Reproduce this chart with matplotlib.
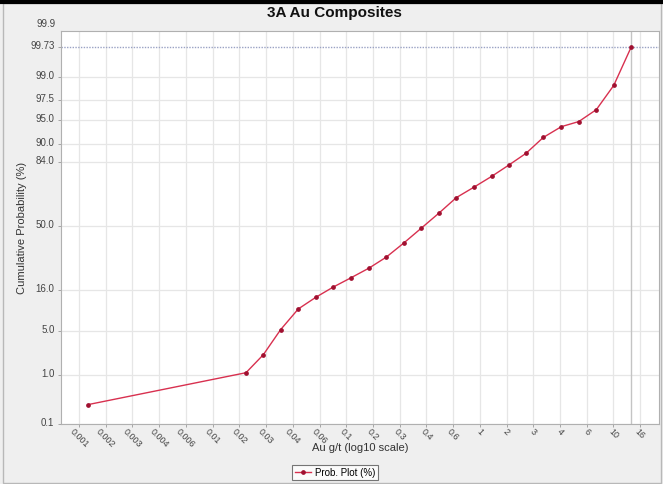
import numpy as np
import matplotlib
matplotlib.use("Agg")
import matplotlib.pyplot as plt
from matplotlib.lines import Line2D
from matplotlib.patches import Rectangle
from matplotlib.transforms import blended_transform_factory, ScaledTranslation
from statistics import NormalDist

plt.rcParams["font.family"] = ["Liberation Sans", "DejaVu Sans"]

# Composite grades (g/t) and their cumulative probability (%)
au_gt = [0.001174, 0.01778, 0.02395, 0.03233, 0.04379, 0.05942, 0.08005,
         0.1086, 0.1482, 0.1996, 0.2694, 0.3629, 0.4950, 0.6668, 0.9001,
         1.228, 1.645, 2.218, 2.987, 4.074, 5.499, 7.447, 10.05, 13.54]
cum_prob = [0.266, 1.10, 2.22, 5.29, 9.75, 13.3, 17.0, 20.9, 25.5, 31.3,
            39.4, 48.4, 57.9, 67.0, 72.6, 78.0, 82.8, 87.1, 91.6, 93.9,
            94.8, 96.5, 98.57, 99.73]

x_tick_labels = ["0.001", "0.002", "0.003", "0.004", "0.006", "0.01", "0.02",
                 "0.03", "0.04", "0.06", "0.1", "0.2", "0.3", "0.4", "0.6",
                 "1", "2", "3", "4", "6", "10", "16"]
y_ticks = [0.1, 1.0, 5.0, 16.0, 50.0, 84.0, 90.0, 95.0, 97.5, 99.0, 99.73]
y_tick_labels = ["0.1", "1.0", "5.0", "16.0", "50.0", "84.0", "90.0", "95.0",
                 "97.5", "99.0", "99.73"]
top_tick = 99.9
top_label = "99.9"
sigma3 = 99.73

# Normal-probability scale for the y axis
_nd = NormalDist()
_ppf = np.vectorize(_nd.inv_cdf, otypes=[float])
_cdf = np.vectorize(_nd.cdf, otypes=[float])


def prob_forward(p):
    p = np.clip(np.asarray(p, dtype=float) / 100.0, 1e-9, 1 - 1e-9)
    return _ppf(p)


def prob_inverse(z):
    return _cdf(np.asarray(z, dtype=float)) * 100.0


W, H = 663, 484
fig = plt.figure(figsize=(W / 100, H / 100), dpi=100, facecolor="#efefef")

left, right, top, bottom = 60.7, 659.0, 31.0, 424.0
ax = fig.add_axes([left / W, 1 - bottom / H, (right - left) / W, (bottom - top) / H])
ax.set_facecolor("white")

ax.set_xscale("log")
ax.set_yscale("function", functions=(prob_forward, prob_inverse))
ax.set_xlim(10 ** -3.137, 10 ** 1.341)
ax.set_ylim(0.108, 99.881)

x_ticks = 10 ** (-3 + 0.2 * np.arange(len(x_tick_labels)))
ax.set_xticks(x_ticks)
ax.set_xticklabels(x_tick_labels, rotation=-45, ha="center", va="top",
                   fontsize=6.5, color="#444444")
ax.xaxis.set_minor_locator(matplotlib.ticker.NullLocator())
ax.set_yticks(y_ticks)
ax.set_yticklabels(y_tick_labels, fontsize=7, color="#444444")
ax.yaxis.set_minor_locator(matplotlib.ticker.NullLocator())
ax.tick_params(axis="both", length=2, width=0.6, color="#999999")
ax.tick_params(axis="x", pad=0.5)
ax.tick_params(axis="y", pad=2.5)

# value labels sit a touch above their gridlines
lift = ScaledTranslation(0, 2 / 100, fig.dpi_scale_trans)
for lbl in ax.get_yticklabels():
    lbl.set_transform(lbl.get_transform() + lift)

# gridlines
for xv in x_ticks:
    ax.axvline(xv, color="#e6e6e6", lw=0.9, zorder=0)
for yv in y_ticks[:-1]:
    ax.axhline(yv, color="#e6e6e6", lw=0.9, zorder=0)
ax.axhline(sigma3, color="#9aa2c4", lw=1.0, ls=(0, (1, 1)), zorder=1)
ax.axvline(au_gt[-1], color="#c4c4c4", lw=1.0, zorder=1)

# 99.9 sits just above the plot frame
ax.text(-0.0082, top_tick, top_label,
        transform=blended_transform_factory(ax.transAxes, ax.transData) + ScaledTranslation(0, 4 / 100, fig.dpi_scale_trans),
        ha="right", va="center", fontsize=7, color="#444444", clip_on=False)

line, = ax.plot(au_gt, cum_prob, color="#d8304f", lw=1.0, marker="o",
                markersize=2.4, markerfacecolor="#a01030",
                markeredgecolor="#a01030", zorder=3, label="Prob. Plot (%)",
                clip_on=False)

for s in ax.spines.values():
    s.set_color("#b0b0b0")
    s.set_linewidth(0.8)

ax.set_ylabel("Cumulative Probability (%)", fontsize=8, color="#333333")
ax.yaxis.set_label_coords((27 - left) / (right - left), 0.5)
fig.text((left + right) / 2 / W, 1 - 448 / H, "Au g/t (log10 scale)",
         ha="center", va="center", fontsize=8, color="#333333")
fig.text(0.504, 1 - 13 / H, "3A Au Composites",
         ha="center", va="center", fontsize=11, fontweight="bold", color="#111111")

leg = fig.legend(handles=[line], loc="center", bbox_to_anchor=(335 / W, 1 - 472.5 / H),
                 fontsize=7, frameon=True, fancybox=False, borderpad=0.3,
                 handlelength=1.6, handletextpad=0.4, borderaxespad=0)
leg.get_frame().set_edgecolor("#555555")
leg.get_frame().set_linewidth(0.8)
leg.get_frame().set_facecolor("white")

# outer frame of the chart panel
fig.patches.append(Rectangle((2.5 / W, 1.5 / H), (W - 5) / W, (H - 4) / H,
                             transform=fig.transFigure, fill=False,
                             edgecolor="#b8b8b8", lw=1.0))
fig.lines.append(Line2D([0, 1], [1 - 1.5 / H, 1 - 1.5 / H], transform=fig.transFigure,
                        color="black", lw=3.0))

fig.savefig("out.png", dpi=100, facecolor=fig.get_facecolor())
